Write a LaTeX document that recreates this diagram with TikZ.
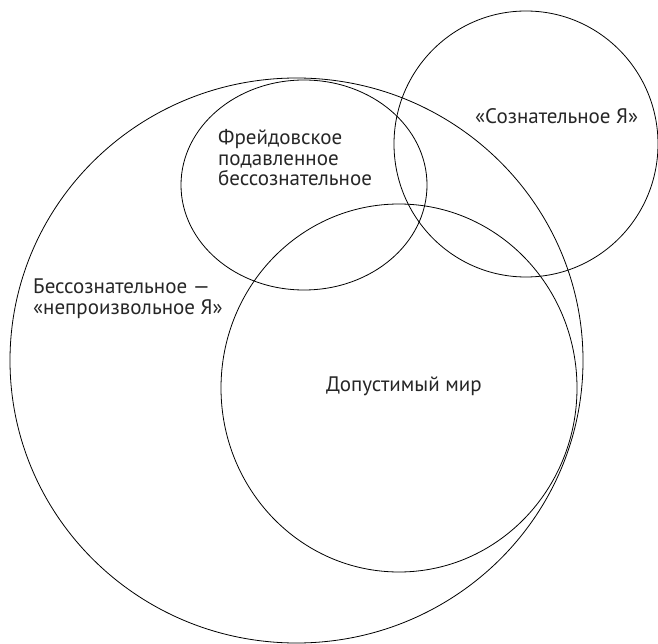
\documentclass[tikz,border=0pt]{standalone}
\usepackage{fontspec}
\setmainfont{PT Sans}
\usetikzlibrary{positioning}
\tikzset{
	ringline/.style={
			draw=black,
			line width=0.8pt
		},
	ringtext/.style={
			font=\fontsize{21}{20.5}\selectfont,
			align=left,
			inner sep=0pt,
			text=black!85
		}
}

\begin{document}
\begin{tikzpicture}[x=1pt,y=-1pt]
        \useasboundingbox (0,0) rectangle (658,644);

        % circles
        \draw[ringline] (296.5,360.5) ellipse [x radius=286.5, y radius=282.5];
        \draw[ringline] (526,144) ellipse [x radius=132, y radius=133];
        \draw[ringline] (304,185) ellipse [x radius=123, y radius=105];
        \draw[ringline] (399,388) ellipse [x radius=178, y radius=184];

        % labels
        \node[ringtext, anchor=base west] at (218,186) (freud)
            {Фрейдовское\\подавленное\\бессознательное};
        \node[ringtext, anchor=base west] at (475,124) (ego) {«Сознательное Я»};
        \node[ringtext, anchor=base west] at (33,314) (unconsc)
            {Бессознательное —\\«непроизвольное Я»};
        \node[ringtext, anchor=base west] at (326,391) (world) {Допустимый мир};
      \end{tikzpicture}
\end{document}
